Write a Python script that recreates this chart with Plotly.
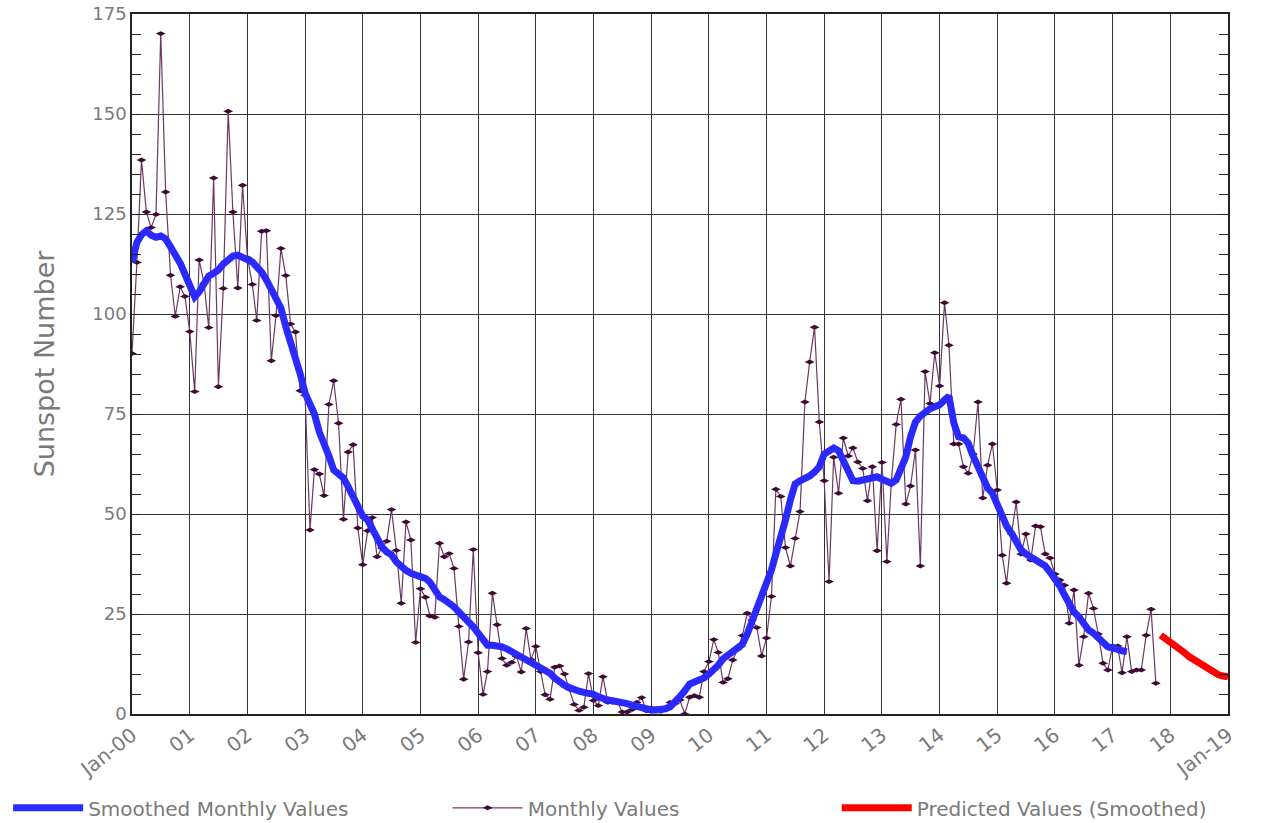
import plotly.graph_objects as go
import pandas as pd

# ---------------- data ----------------
monthly_values = [
    # 2000
    90.1, 112.9, 138.5, 125.5, 121.6, 124.9, 170.1, 130.5, 109.7, 99.4, 106.8, 104.4,
    # 2001
    95.6, 80.6, 113.5, 107.7, 96.6, 134.0, 81.8, 106.4, 150.7, 125.5, 106.5, 132.2,
    # 2002
    114.1, 107.4, 98.4, 120.7, 120.8, 88.3, 99.6, 116.4, 109.6, 97.5, 95.5, 80.8,
    # 2003
    79.7, 46.0, 61.1, 60.0, 54.6, 77.4, 83.3, 72.7, 48.7, 65.5, 67.3, 46.5,
    # 2004
    37.3, 45.8, 49.1, 39.3, 41.5, 43.2, 51.1, 40.9, 27.7, 48.0, 43.5, 17.9,
    # 2005
    31.3, 29.2, 24.5, 24.2, 42.7, 39.3, 40.1, 36.4, 21.9, 8.7, 18.0, 41.1,
    # 2006
    15.3, 4.9, 10.6, 30.2, 22.3, 13.9, 12.2, 12.9, 14.4, 10.5, 21.4, 13.6,
    # 2007
    16.9, 10.6, 4.8, 3.7, 11.7, 12.0, 10.0, 6.2, 2.4, 0.9, 1.7, 10.1,
    # 2008
    3.4, 2.1, 9.3, 2.9, 2.9, 3.1, 0.5, 0.5, 1.1, 2.9, 4.1, 0.8,
    # 2009
    1.5, 1.4, 0.7, 1.2, 2.9, 2.6, 3.5, 0.0, 4.2, 4.6, 4.2, 10.6,
    # 2010
    13.1, 18.6, 15.4, 7.9, 8.8, 13.5, 16.1, 19.6, 25.2, 23.5, 21.6, 14.5,
    # 2011
    19.0, 29.4, 56.2, 54.4, 41.6, 37.0, 43.9, 50.6, 78.0, 88.0, 96.7, 73.0,
    # 2012
    58.3, 33.1, 64.2, 55.2, 69.0, 64.5, 66.5, 63.0, 61.4, 53.3, 61.8, 40.8,
    # 2013
    62.9, 38.1, 57.9, 72.4, 78.7, 52.5, 57.0, 66.0, 37.0, 85.6, 77.6, 90.3,
    # 2014
    82.0, 102.8, 92.2, 67.5, 67.5, 61.8, 60.2, 65.0, 78.0, 54.0, 62.2, 67.5,
    # 2015
    56.0, 39.7, 32.7, 45.0, 53.0, 40.0, 45.0, 38.5, 47.0, 46.8, 40.0, 39.0,
    # 2016
    35.0, 33.5, 32.2, 22.7, 31.0, 12.2, 19.3, 30.2, 26.4, 20.0, 12.7, 11.0,
    # 2017 (Jan-Oct)
    17.0, 17.0, 10.3, 19.3, 10.6, 11.0, 11.0, 19.7, 26.2, 7.7,
]

smoothed_values = [
    # 2000
    112.9, 117.9, 119.8, 120.8, 119.7, 119.2, 119.5, 118.8, 116.8, 115.0, 112.7, 110.0,
    # 2001
    106.5, 104.3, 105.5, 107.7, 109.5, 110.2, 111.0, 112.5, 113.5, 114.5, 114.7, 114.2,
    # 2002
    113.9, 113.0, 111.8, 110.5, 108.5, 106.0, 104.3, 101.5, 96.8, 93.0, 89.5, 85.0,
    # 2003
    80.2, 77.7, 75.0, 70.5, 68.0, 64.5, 61.0, 60.0, 59.0, 56.8, 54.3, 51.5,
    # 2004
    49.5, 48.5, 46.5, 43.5, 41.8, 40.5, 39.8, 38.0, 36.8, 35.9, 35.2, 34.8,
    # 2005
    34.5, 33.9, 33.0, 31.0, 29.3, 28.6, 27.9, 26.8, 25.5, 24.5, 23.0, 21.8,
    # 2006
    20.2, 18.5, 17.2, 17.2, 17.2, 16.8, 16.3, 15.6, 14.8, 14.2, 13.6, 13.1,
    # 2007
    12.2, 11.8, 11.2, 10.2, 9.0, 8.0, 7.2, 6.6, 6.0, 5.7, 5.4, 5.2,
    # 2008
    4.9, 4.3, 3.8, 3.5, 3.3, 3.2, 3.1, 2.6, 2.2, 1.8, 1.4, 1.1,
    # 2009
    1.0, 1.0, 1.1, 1.3, 1.8, 2.8, 4.3, 5.8, 7.5, 8.0, 8.5, 9.0,
    # 2010
    10.0, 11.0, 12.2, 13.8, 14.8, 15.8, 16.6, 17.4, 20.0, 23.0, 26.0, 29.5,
    # 2011
    32.7, 36.0, 40.0, 44.0, 48.5, 53.5, 57.5, 58.3, 58.8, 59.5, 60.5, 61.8,
    # 2012
    65.0, 66.0, 66.5, 65.8, 63.5, 60.5, 58.3, 58.2, 58.5, 58.8, 59.3, 59.3,
    # 2013
    58.7, 58.0, 57.7, 58.5, 61.0, 64.3, 69.3, 73.0, 74.5, 75.6, 76.3, 76.8,
    # 2014
    77.3, 78.5, 79.5, 72.7, 69.3, 69.0, 67.7, 64.5, 61.5, 58.5, 56.5, 55.2,
    # 2015
    52.0, 49.3, 47.0, 45.2, 43.0, 41.0, 40.0, 39.3, 38.8, 38.0, 37.0, 35.5,
    # 2016
    33.9, 32.0, 29.8, 27.5, 25.5, 24.3, 22.5, 21.0, 20.2, 19.0, 17.5, 16.8,
    # 2017 (Jan-Apr)
    16.5, 16.0, 15.8, 15.6,
]

predicted_values = [
    # Nov 2017 - Jan 2019
    19.7, 18.9, 18.0, 17.0, 16.2, 15.3, 14.3, 13.5, 12.6, 11.9, 11.1, 10.3, 9.8, 9.5, 9.3,
]

year_tick_labels = ["Jan-00", "01", "02", "03", "04", "05", "06", "07", "08", "09",
                    "10", "11", "12", "13", "14", "15", "16", "17", "18", "Jan-19"]

# ---------------- x positions (month starts) ----------------
monthly_dates = pd.date_range("2000-01-01", periods=len(monthly_values), freq="MS")
smoothed_dates = pd.date_range("2000-01-01", periods=len(smoothed_values), freq="MS")
predicted_dates = pd.date_range("2017-11-01", periods=len(predicted_values), freq="MS")
year_ticks = pd.date_range("2000-01-01", periods=len(year_tick_labels), freq="YS")

GRAY = "#7a7a7a"
FONT = "DejaVu Sans"

fig = go.Figure()

fig.add_trace(go.Scatter(
    x=monthly_dates, y=monthly_values, mode="lines+markers",
    name="Monthly Values",
    line=dict(color="#6b3a62", width=1.2),
    marker=dict(symbol="diamond-wide", size=7, color="#3f0a35"),
    legend="legend2",
))
fig.add_trace(go.Scatter(
    x=smoothed_dates, y=smoothed_values, mode="lines",
    name="Smoothed Monthly Values",
    line=dict(color="#2a2aff", width=7),
    legend="legend",
))
fig.add_trace(go.Scatter(
    x=predicted_dates, y=predicted_values, mode="lines",
    name="Predicted Values (Smoothed)",
    line=dict(color="#ff0000", width=7),
    legend="legend3",
))

legend_common = dict(
    orientation="h", yanchor="middle", y=-0.134, xanchor="left",
    font=dict(family=FONT, size=20, color=GRAY),
    bgcolor="rgba(0,0,0,0)", itemwidth=70,
)

fig.update_layout(
    width=1282, height=823,
    paper_bgcolor="white", plot_bgcolor="white",
    margin=dict(l=132, r=54, t=14, b=109, autoexpand=False),
    showlegend=True,
    legend=dict(x=-0.113, **legend_common),
    legend2=dict(x=0.288, **legend_common),
    legend3=dict(x=0.643, **legend_common),
    font=dict(family=FONT, color=GRAY),
)

fig.update_xaxes(
    type="date",
    range=["2000-01-01", "2019-01-01"],
    tickmode="array", tickvals=year_ticks, ticktext=year_tick_labels,
    tickangle=-38,
    tickfont=dict(family=FONT, size=20, color=GRAY),
    showgrid=True, gridcolor="#333333", gridwidth=1.3,
    showline=True, linecolor="#222222", linewidth=1.5, mirror=True,
    ticks="", zeroline=False,
)
fig.update_yaxes(
    range=[0, 175], tickmode="linear", tick0=0, dtick=25,
    tickfont=dict(family=FONT, size=18, color=GRAY),
    ticklabeloverflow="allow",
    title=dict(text="Sunspot Number", font=dict(family=FONT, size=27, color=GRAY), standoff=30),
    showgrid=True, gridcolor="#333333", gridwidth=1.3,
    showline=True, linecolor="#222222", linewidth=1.5, mirror="allticks",
    ticks="inside", ticklen=9, tickcolor="#222222",
    minor=dict(dtick=5, ticks="inside", ticklen=9, tickcolor="#222222", showgrid=False),
    zeroline=False,
)

# remove the page's default 8px body margin so the figure fills the window
fig.write_html(
    "out.html",
    config={"displayModeBar": False},
    post_script="document.body.style.margin='0';document.body.style.overflow='hidden';",
)
